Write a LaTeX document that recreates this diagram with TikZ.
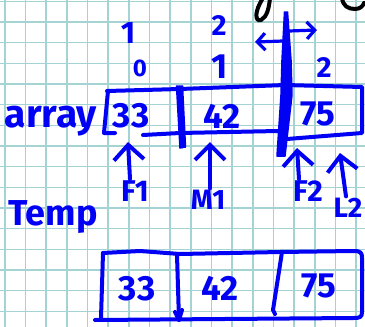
\documentclass[tikz,border=0pt]{standalone}
\usepackage{fontspec}
\setmainfont{Fira Sans}
\usepackage{graphicx}
\usetikzlibrary{arrows.meta}
\definecolor{penblue}{RGB}{0,0,245}
\definecolor{gridc}{RGB}{165,210,210}
\tikzset{
  stroke/.style={draw=penblue, line width=4pt, line cap=round, line join=round},
  bar/.style={fill=penblue, draw=penblue, line width=1.5pt, line join=round},
  txt/.style={text=penblue, inner sep=0pt, anchor=base, font=\bfseries\fontsize{#1}{#1}\selectfont},
  ptr/.style={stroke, -{Straight Barb[length=15pt,width=30pt]}},
  sptr/.style={stroke, line width=3.2pt, -{Straight Barb[length=8pt,width=17pt]}},
  gridline/.style={draw=gridc, line width=1.6pt},
  blackink/.style={draw=black, line width=4pt, line cap=round},
}
\begin{document}
\begin{tikzpicture}[x=1pt,y=-1pt]
\useasboundingbox (0,0) rectangle (365,327);
\fill[white] (0,0) rectangle (365,327);
\begin{scope}
\clip (0,0) rectangle (365,327);
% grid paper
\foreach \i in {0,...,17} \draw[gridline] ({4.7+20.67*\i},0) -- ({4.7+20.67*\i},327);
\foreach \j in {0,...,15} \draw[gridline] (0,{1.3+20.67*\j}) -- (365,{1.3+20.67*\j});
% black fragments at the top
\draw[blackink] (263,-2) .. controls (254,12) and (255,22) .. (261,20) .. controls (267,17) and (269,8) .. (270,-2);
\draw[blackink] (342,-2) .. controls (343,6) and (348,9) .. (355,9) .. controls (360,9) and (363,6) .. (364,3);
\end{scope}

% numbers above
\node[txt=31] (n1) at (128,43) {1};
\node[txt=29] (n2) at (219,35) {2};
\node[txt=24] (i0) at (140,76) {0};
\node[txt=35] (i1) at (220,78) {1};
\node[txt=29] (i2) at (324,77) {2};

% array box
\draw[stroke] (107,91) -- (180,89) -- (285,85) -- (362,87) -- (362,133) -- (287,139);
\draw[stroke] (108,91) -- (104,133) -- (115,133);
\draw[stroke] (143,135) -- (180,133) -- (278,131);
\draw[bar] (176.5,86) -- (182.5,86) -- (185.5,147) -- (180,148) -- cycle;
\draw[bar] (284.5,12) -- (287.5,12) -- (291,60) -- (292,95) -- (285,156) -- (277,156) -- (281,95) -- (282,60) -- cycle;
\coordinate (barL) at (283,41);
\coordinate (barR) at (289,31);
\coordinate (leftend) at (255,42);
\coordinate (rightend) at (317,30);
\draw[sptr] (barL) -- (leftend);
\draw[sptr] (barR) -- (rightend);

\node[txt=39] (arr) at (51,127) {array};
\node[txt=35] (a33) at (131,127) {33};
\node[txt=35] (a42) at (222,128) {42};
\node[txt=35] (a75) at (318,125) {75};

% pointers
\node[txt=30] (f1) at (135,201) {F1};
\node[txt=28] (m1) at (208,209) {M1};
\node[txt=30] (f2) at (308,201) {F2};
\node[txt=28] (l2) at (348,217) {L2};
\coordinate (f1t) at (128,142);
\coordinate (m1t) at (210,142);
\coordinate (f2t) at (297,148);
\coordinate (l2t) at (340,153);
\draw[ptr] (f1.north) ++(-5,-1) -- (f1t);
\draw[ptr] (m1.north) ++(2,-1) -- (m1t);
\draw[ptr] (f2.north) ++(-9,-1) -- (f2t);
\draw[ptr] (l2.north) ++(-2,-1) -- (l2t);

% temp
\node[txt=36] (tmp) at (53,225) {Temp};
\draw[stroke] (103,253) -- (140,251) -- (180,254) -- (280,252) -- (354,251)
  .. controls (361,251) and (362,253) .. (362,258) -- (362,312)
  .. controls (362,317) and (360,318) .. (354,318) -- (95,320);
\draw[stroke] (103,253) -- (101,318);
\draw[stroke] (177,255) -- (179,320);
\draw[stroke] (175,312) -- (179,320) -- (182,310);
\draw[stroke] (282,252) -- (273,310) -- (275,314);
\node[txt=35] (b33) at (137,300) {33};
\node[txt=35] (b42) at (220,300) {42};
\node[txt=35] (b75) at (319,297) {75};
\end{tikzpicture}
\end{document}
